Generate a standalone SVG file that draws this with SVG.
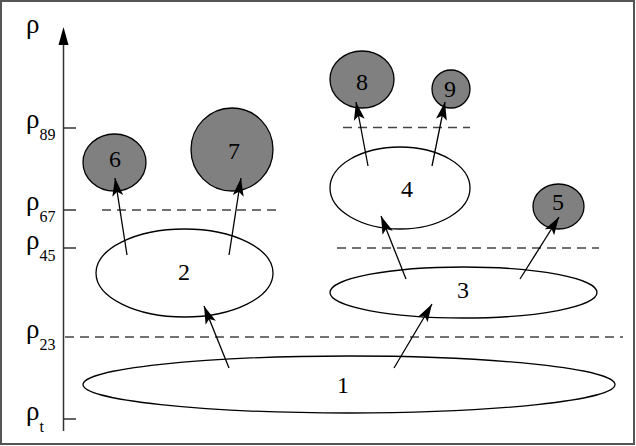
<svg xmlns="http://www.w3.org/2000/svg" width="636" height="446" viewBox="0 0 636 446">
<defs>
<marker id="ah" markerUnits="userSpaceOnUse" markerWidth="22" markerHeight="14" refX="18" refY="6" orient="auto" viewBox="0 0 22 12">
<path d="M18,6 L0,0.5 L4,6 L0,11.5 Z" fill="#000"/>
</marker>
<style>
.frame{fill:#fff;stroke:#555;stroke-width:2}
.axis{stroke:#333;stroke-width:1.5;fill:none}
.dash{stroke:#444;stroke-width:1.3;stroke-dasharray:9 6;fill:none}
.open{fill:#fff;stroke:#000;stroke-width:1.3}
.dark{fill:#808080;stroke:#000;stroke-width:1.3}
text{font-family:'Liberation Serif','Times New Roman',serif;fill:#000}
.lbl{font-size:24px;text-anchor:middle}
.rho{font-size:27px}
.sub{font-size:16px}
.conn line{stroke:#000;stroke-width:1.3;marker-end:url(#ah)}
</style>
</defs>
<rect class="frame" x="1" y="1" width="633" height="443"/>
<g id="axis">
<line class="axis" x1="63.5" y1="44" x2="63.5" y2="431"/>
<path d="M63.5,27 L58.5,45 L68.5,45 Z" fill="#000"/>
<line class="axis" x1="63.5" y1="128" x2="76" y2="128"/>
<line class="axis" x1="63.5" y1="210" x2="76" y2="210"/>
<line class="axis" x1="63.5" y1="248" x2="76" y2="248"/>
<line class="axis" x1="63.5" y1="419" x2="76" y2="419"/>
<text class="rho" x="26" y="33">ρ</text>
<text class="rho" x="26" y="128">ρ<tspan class="sub" dy="12">89</tspan></text>
<text class="rho" x="26" y="210">ρ<tspan class="sub" dy="12">67</tspan></text>
<text class="rho" x="26" y="249">ρ<tspan class="sub" dy="12">45</tspan></text>
<text class="rho" x="26" y="338">ρ<tspan class="sub" dy="12">23</tspan></text>
<text class="rho" x="26" y="420">ρ<tspan class="sub" dy="12">t</tspan></text>
</g>
<g id="levels">
<line class="dash" x1="343" y1="127.5" x2="470" y2="127.5"/>
<line class="dash" x1="102" y1="210" x2="280" y2="210"/>
<line class="dash" x1="337" y1="248" x2="599" y2="248"/>
<line class="dash" x1="65" y1="337" x2="623" y2="337"/>
</g>
<g id="n1"><ellipse class="open" cx="349" cy="384.5" rx="266" ry="28.5"/><text class="lbl" x="343" y="393">1</text></g>
<g id="n2"><ellipse class="open" cx="184.5" cy="273" rx="88.5" ry="44"/><text class="lbl" x="184" y="280">2</text></g>
<g id="n3"><ellipse class="open" cx="463.5" cy="292.5" rx="133.5" ry="25.5"/><text class="lbl" x="463" y="298">3</text></g>
<g id="n4"><ellipse class="open" cx="400" cy="188" rx="70" ry="41"/><text class="lbl" x="407" y="197">4</text></g>
<g id="n5"><ellipse class="dark" cx="558.5" cy="206.5" rx="25.5" ry="22.5"/><text class="lbl" x="558" y="210">5</text></g>
<g id="n6"><ellipse class="dark" cx="114.5" cy="162.5" rx="31.5" ry="28.5"/><text class="lbl" x="115" y="167">6</text></g>
<g id="n7"><ellipse class="dark" cx="232" cy="149.5" rx="41" ry="41.5"/><text class="lbl" x="234" y="159">7</text></g>
<g id="n8"><ellipse class="dark" cx="362" cy="79.5" rx="32" ry="28.5"/><text class="lbl" x="362" y="90">8</text></g>
<g id="n9"><ellipse class="dark" cx="451" cy="89" rx="19" ry="19"/><text class="lbl" x="450" y="97">9</text></g>
<g id="connectors" class="conn">
<line x1="229" y1="368" x2="204" y2="306"/>
<line x1="127" y1="255" x2="115" y2="178"/>
<line x1="229" y1="255" x2="241" y2="178"/>
<line x1="394" y1="368" x2="432" y2="304"/>
<line x1="406" y1="279" x2="381" y2="216"/>
<line x1="520" y1="279" x2="559" y2="217"/>
<line x1="368" y1="166" x2="356" y2="102"/>
<line x1="432" y1="166" x2="445" y2="102"/>
</g>
</svg>
